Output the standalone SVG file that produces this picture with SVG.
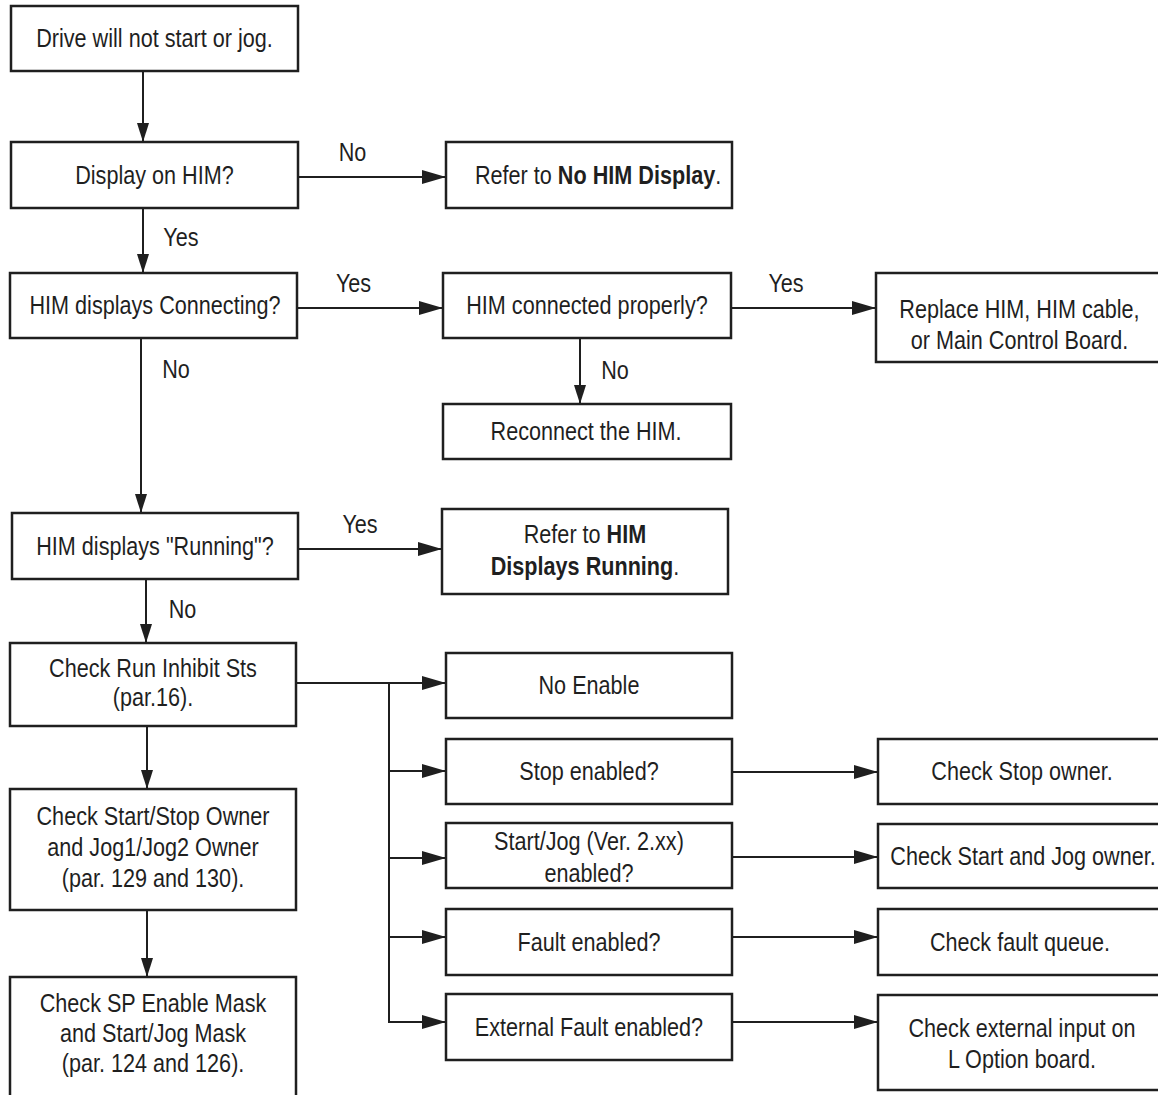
<svg xmlns="http://www.w3.org/2000/svg" width="1158" height="1095" viewBox="0 0 1158 1095">
<style>
  .box { fill: #ffffff; stroke: #1f1f1f; stroke-width: 2.5; }
  .ln { fill: none; stroke: #1f1f1f; stroke-width: 2; }
  .ah { marker-end: url(#ah); }
  .av { marker-end: url(#av); }
  text { font-family: "Liberation Sans", Arial, Helvetica, sans-serif; font-size: 25px; fill: #1f1f1f; transform: scaleX(0.865); }
  .c { text-anchor: middle; }
  .b { font-weight: bold; }
</style>
<defs>
  <marker id="ah" markerUnits="userSpaceOnUse" markerWidth="24" markerHeight="14" refX="24" refY="7" orient="auto">
    <path d="M0,0 L24,7 L0,14 Z" fill="#1f1f1f"/>
  </marker>
  <marker id="av" markerUnits="userSpaceOnUse" markerWidth="19" markerHeight="12" refX="19" refY="6" orient="auto">
    <path d="M0,0 L19,6 L0,12 Z" fill="#1f1f1f"/>
  </marker>
</defs>
<rect width="1158" height="1095" fill="#ffffff"/>

<g id="connectors">
  <line class="ln av" x1="143" y1="71" x2="143" y2="142"/>
  <line class="ln ah" x1="298" y1="177" x2="446" y2="177"/>
  <line class="ln av" x1="143" y1="208" x2="143" y2="273"/>
  <line class="ln ah" x1="297" y1="308" x2="443" y2="308"/>
  <line class="ln ah" x1="731" y1="308" x2="876" y2="308"/>
  <line class="ln av" x1="580" y1="338" x2="580" y2="404"/>
  <line class="ln av" x1="141" y1="338" x2="141" y2="513"/>
  <line class="ln ah" x1="298" y1="549" x2="442" y2="549"/>
  <line class="ln av" x1="146" y1="579" x2="146" y2="643"/>
  <line class="ln ah" x1="296" y1="683" x2="446" y2="683"/>
  <line class="ln" x1="389" y1="683" x2="389" y2="1023"/>
  <line class="ln ah" x1="389" y1="771" x2="446" y2="771"/>
  <line class="ln ah" x1="389" y1="858" x2="446" y2="858"/>
  <line class="ln ah" x1="389" y1="937" x2="446" y2="937"/>
  <line class="ln ah" x1="388" y1="1022" x2="446" y2="1022"/>
  <line class="ln av" x1="147" y1="726" x2="147" y2="789"/>
  <line class="ln av" x1="147" y1="910" x2="147" y2="977"/>
  <line class="ln ah" x1="732" y1="772" x2="878" y2="772"/>
  <line class="ln ah" x1="732" y1="857" x2="878" y2="857"/>
  <line class="ln ah" x1="732" y1="937" x2="878" y2="937"/>
  <line class="ln ah" x1="732" y1="1022" x2="878" y2="1022"/>
  <text class="c" x="407.5" y="161">No</text>
  <text class="c" x="209.2" y="246">Yes</text>
  <text class="c" x="408.7" y="292">Yes</text>
  <text class="c" x="908.7" y="292">Yes</text>
  <text class="c" x="711" y="379">No</text>
  <text class="c" x="203.5" y="378">No</text>
  <text class="c" x="416.2" y="533">Yes</text>
  <text class="c" x="211" y="618">No</text>
</g>

<g id="n1">
  <rect class="box" x="11" y="6" width="287" height="65"/>
  <text class="c" x="178.6" y="47.5">Drive will not start or jog.</text>
</g>
<g id="n2">
  <rect class="box" x="11" y="142" width="287" height="66"/>
  <text class="c" x="178.6" y="184">Display on HIM?</text>
</g>
<g id="n3">
  <rect class="box" x="446" y="142" width="286" height="66"/>
  <text x="549.1" y="184">Refer to <tspan class="b">No HIM Display</tspan>.</text>
</g>
<g id="n4">
  <rect class="box" x="10" y="273" width="287" height="65"/>
  <text class="c" x="179.2" y="314.5">HIM displays Connecting?</text>
</g>
<g id="n5">
  <rect class="box" x="443" y="273" width="288" height="65"/>
  <text class="c" x="678.6" y="314.5">HIM connected properly?</text>
</g>
<g id="n6">
  <rect class="box" x="443" y="404" width="288" height="55"/>
  <text class="c" x="677.5" y="440.5">Reconnect the HIM.</text>
</g>
<g id="n7">
  <rect class="box" x="876" y="273" width="292" height="89"/>
  <text class="c" x="1178.6" y="318">Replace HIM, HIM cable,</text>
  <text class="c" x="1178.6" y="349">or Main Control Board.</text>
</g>
<g id="n8">
  <rect class="box" x="12" y="513" width="286" height="66"/>
  <text class="c" x="179.2" y="555">HIM displays "Running"?</text>
</g>
<g id="n9">
  <rect class="box" x="442" y="509" width="286" height="85"/>
  <text class="c" x="676.3" y="543">Refer to <tspan class="b">HIM</tspan></text>
  <text class="c" x="676.3" y="575"><tspan class="b">Displays Running</tspan>.</text>
</g>
<g id="n10">
  <rect class="box" x="10" y="643" width="286" height="83"/>
  <text class="c" x="176.9" y="677">Check Run Inhibit Sts</text>
  <text class="c" x="176.9" y="706">(par.16).</text>
</g>
<g id="n11">
  <rect class="box" x="10" y="789" width="286" height="121"/>
  <text class="c" x="176.9" y="825">Check Start/Stop Owner</text>
  <text class="c" x="176.9" y="856">and Jog1/Jog2 Owner</text>
  <text class="c" x="176.9" y="887">(par. 129 and 130).</text>
</g>
<g id="n12">
  <rect class="box" x="10" y="977" width="286" height="130"/>
  <text class="c" x="176.9" y="1012">Check SP Enable Mask</text>
  <text class="c" x="176.9" y="1042">and Start/Jog Mask</text>
  <text class="c" x="176.9" y="1072">(par. 124 and 126).</text>
</g>
<g id="n13">
  <rect class="box" x="446" y="653" width="286" height="65"/>
  <text class="c" x="680.9" y="694.5">No Enable</text>
</g>
<g id="n14">
  <rect class="box" x="446" y="739" width="286" height="65"/>
  <text class="c" x="680.9" y="780.5">Stop enabled?</text>
</g>
<g id="n15">
  <rect class="box" x="446" y="823" width="286" height="65"/>
  <text class="c" x="680.9" y="850">Start/Jog (Ver. 2.xx)</text>
  <text class="c" x="680.9" y="882">enabled?</text>
</g>
<g id="n16">
  <rect class="box" x="446" y="909" width="286" height="66"/>
  <text class="c" x="680.9" y="951">Fault enabled?</text>
</g>
<g id="n17">
  <rect class="box" x="446" y="994" width="286" height="66"/>
  <text class="c" x="680.9" y="1036">External Fault enabled?</text>
</g>
<g id="n18">
  <rect class="box" x="878" y="739" width="292" height="65"/>
  <text class="c" x="1181.5" y="780.5">Check Stop owner.</text>
</g>
<g id="n19">
  <rect class="box" x="878" y="824" width="292" height="64"/>
  <text class="c" x="1182.7" y="865">Check Start and Jog owner.</text>
</g>
<g id="n20">
  <rect class="box" x="878" y="909" width="292" height="66"/>
  <text class="c" x="1179.2" y="951">Check fault queue.</text>
</g>
<g id="n21">
  <rect class="box" x="878" y="995" width="292" height="95"/>
  <text class="c" x="1181.5" y="1037">Check external input on</text>
  <text class="c" x="1181.5" y="1068">L Option board.</text>
</g>
</svg>
